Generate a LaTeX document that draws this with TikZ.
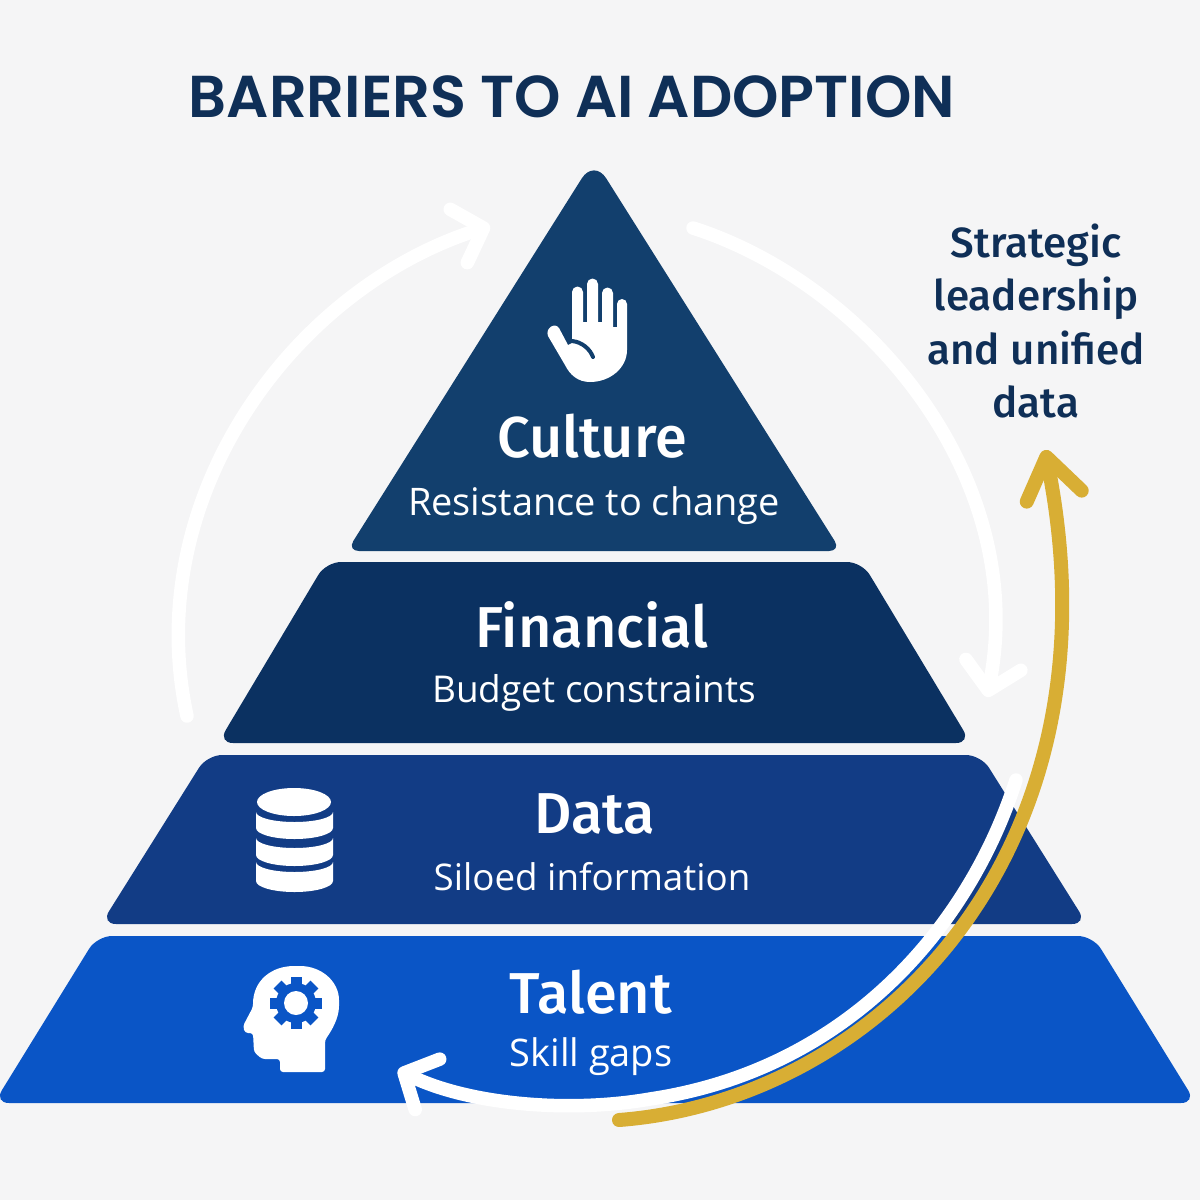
\documentclass[tikz,border=0pt]{standalone}
\usepackage{fontspec}
\setmainfont{Open Sans}
\newfontfamily\titlefont{Poppins SemiBold}
\newfontfamily\headfont{Fira Sans Medium}
\usetikzlibrary{arrows.meta}
\definecolor{pagegrey}{HTML}{F5F5F6}
\definecolor{titlenavy}{HTML}{0F2F57}
\definecolor{cultureblue}{HTML}{123F6D}
\definecolor{financeblue}{HTML}{0B3161}
\definecolor{datablue}{HTML}{123C85}
\definecolor{talentblue}{HTML}{0A55C6}
\definecolor{arrowgold}{HTML}{D8AE34}
\tikzset{
	tier/.style={rounded corners=1.5mm,line join=round},
	headtext/.style={text=white,font=\headfont\fontsize{16.4}{18}\selectfont,inner sep=0pt},
	subtext/.style={text=white,font=\fontsize{#1}{13}\selectfont,inner sep=0pt},
	subtext/.default=10.8,
	loopline/.style={draw=white,line width=1.35mm,line cap=round,line join=round,-{Straight Barb[length=2.6mm,width=5.6mm,line cap=round,line join=round]}},
	goldline/.style={draw=arrowgold,line width=1.4mm,line cap=round,line join=round,-{Straight Barb[length=4mm,width=5.6mm,line cap=round,line join=round]}}
}
\begin{document}
\begin{tikzpicture}[x=0.01cm,y=-0.01cm]
	\fill[pagegrey] (0,0) rectangle (1200,1200);
	\useasboundingbox (0,0) rectangle (1200,1200);

	\fill[cultureblue] (594,551) [rounded corners=1.2mm] -- (347,551) [rounded corners=2.3mm] -- (594,159) [rounded corners=1.2mm] -- (841,551) -- cycle;
	\fill[financeblue,tier] (326,562) -- (862,562) -- (971,743) -- (218,743) -- cycle;
	\fill[datablue,tier] (207,755) -- (981,755) -- (1087,924) -- (101,924) -- cycle;
	\fill[talentblue,tier] (97,936) -- (1093,936) -- (1196,1103) -- (-6,1103) -- cycle;

	\node[text=titlenavy,font=\titlefont\fontsize{16.8}{20}\selectfont,inner sep=0pt] (title) at (572,97) {BARRIERS TO AI ADOPTION};

	\node[headtext] (culture) at (592,436) {Culture};
	\node[subtext] (resistance) at (594,506) {Resistance to change};
	\node[headtext] (financial) at (592,625) {Financial};
	\node[subtext=10.5] (budget) at (594,693) {Budget constraints};
	\node[headtext] (data) at (595,814) {Data};
	\node[subtext=10.45] (siloed) at (592,877) {Siloed information};
	\node[headtext] (talent) at (591,992) {Talent};
	\node[subtext] (skill) at (591,1057) {Skill gaps};

	\node[text=titlenavy,align=center,font=\headfont\fontsize{12}{15.2}\selectfont,inner sep=0pt] (strategic) at (1036,321) {Strategic\\leadership\\and unified\\data};

	\coordinate (leftstart) at (187,716);
	\coordinate (lefttip) at (490,226);
	\coordinate (rightstart) at (693,228);
	\coordinate (righttip) at (987,697);
	\coordinate (bottomstart) at (1016,780);
	\coordinate (bottomtip) at (398,1070);
	\coordinate (goldstart) at (619,1120);
	\coordinate (goldtip) at (1045,450);

	\draw[loopline] (leftstart) .. controls (140,500) and (290,290) .. (lefttip);
	\draw[loopline] (rightstart) .. controls (870,285) and (1030,480) .. (righttip);
	\draw[loopline] (bottomstart) .. controls (968,930) and (845,1070) .. (650,1099) .. controls (570,1113) and (470,1105) .. (bottomtip);
	\draw[goldline] (goldstart) .. controls (880,1100) and (1125,850) .. (goldtip);

	\fill[white] (572,343) -- (572,292) arc (180:360:5.5) -- (583,322) -- (587,322) -- (587,284) arc (180:360:5.5) -- (598,322) -- (602,322) -- (602,293) arc (180:360:5.5) -- (613,327) -- (617,327) -- (617,304) arc (180:360:5) -- (627,350) .. controls (627,368) and (610,382) .. (590,382) .. controls (578,382) and (570,375) .. (565,365) -- (548,336) .. controls (545,328) and (555,322) .. (559,328) -- (568,345) -- cycle;
	\draw[cultureblue,line width=0.4mm,line cap=round] (572,341) .. controls (582,342) and (590,349) .. (593,357);

	\fill[white] (294,802) ellipse (37 and 14);
	\foreach \a/\b in {812/828,838/855,862/881}{
		\fill[white] (256,\a) -- (256,\b) arc (180:0:38.5 and 11) -- (333,\a) arc (0:180:38.5 and 10) -- cycle;
	}

	\fill[white,rounded corners=0.3mm] (325,1072) -- (280,1072) -- (280,1059) -- (262,1059) -- (254,1052) -- (253,1033) -- (245,1033) -- (243,1026) -- (253,1007) .. controls (253,980) and (272,966) .. (297,966) .. controls (322,966) and (339,982) .. (339,1003) .. controls (339,1018) and (332,1030) .. (325,1040) -- cycle;
	\foreach \a in {0,45,90,135}{
		\fill[talentblue,rotate around={\a:(296,1003)}] (290.5,977) rectangle (301.5,1029);
	}
	\fill[talentblue] (296,1003) circle (20);
	\fill[white] (296,1003) circle (12);
\end{tikzpicture}
\end{document}
